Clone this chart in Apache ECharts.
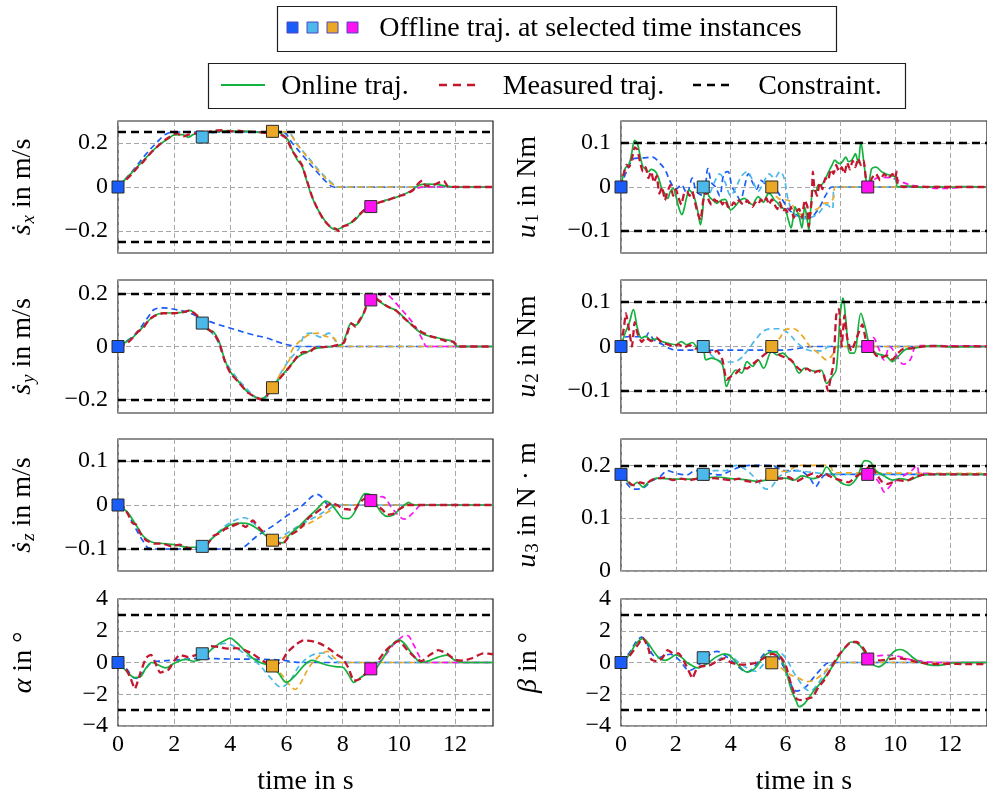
<!DOCTYPE html>
<html>
<head>
<meta charset="utf-8">
<script src="https://cdn.jsdelivr.net/npm/echarts@6/dist/echarts.min.js"></script>
<style>
  html, body { margin: 0; padding: 0; background: #fff; }
  #chart { width: 987px; height: 797px; }
</style>
</head>
<body>
<div id="chart"></div>
<script>
// ---------------------------------------------------------------
// Axis ticks and constraints
// ---------------------------------------------------------------
const timeTicks = [0, 2, 4, 6, 8, 10, 12];
const sxTicks = [-0.2, 0, 0.2];
const syTicks = [-0.2, 0, 0.2];
const szTicks = [-0.1, 0, 0.1];
const angleTicks = [-4, -2, 0, 2, 4];
const u12Ticks = [-0.1, 0, 0.1];
const u3Ticks = [0, 0.1, 0.2];

const sxLimits = [-0.25, 0.25];
const syLimits = [-0.2, 0.2];
const szLimits = [-0.1, 0.1];
const alphaLimits = [-3, 3];
const u1Limits = [-0.1, 0.1];
const u2Limits = [-0.1, 0.1];
const u3Limits = [0.2];
const betaLimits = [-3, 3];

// ---------------------------------------------------------------
// Translational velocity s_x  [t (s), value (m/s)]
// ---------------------------------------------------------------
const sxOnline = [[0,0],[0.3,0.04],[0.6,0.08],[0.9,0.12],[1.2,0.16],[1.5,0.195],[1.8,0.22],[2.0,0.237],[2.3,0.238],[2.5,0.226],[2.7,0.24],[3.0,0.246],[3.3,0.25],[3.6,0.253],[4.0,0.256],[4.3,0.252],[4.6,0.254],[5.0,0.248],[5.3,0.25],[5.6,0.25],[5.85,0.24],[6.05,0.215],[6.23,0.16],[6.4,0.12],[6.55,0.095],[6.7,0.035],[6.88,-0.036],[7.06,-0.089],[7.3,-0.141],[7.53,-0.179],[7.77,-0.194],[7.95,-0.185],[8.15,-0.17],[8.4,-0.155],[8.65,-0.12],[9.0,-0.089],[9.4,-0.066],[9.9,-0.047],[10.25,-0.03],[10.5,-0.012],[10.7,0.008],[11.0,0.013],[11.3,0.012],[11.7,0.004],[12.0,0],[13.35,0]];
const sxMeasured = [[0,0],[0.3,0.035],[0.5,0.06],[0.7,0.09],[0.9,0.115],[1.2,0.16],[1.5,0.195],[1.8,0.225],[2.1,0.245],[2.3,0.228],[2.5,0.238],[2.8,0.245],[3.1,0.248],[3.4,0.255],[3.7,0.258],[4.0,0.253],[4.3,0.256],[4.6,0.25],[4.9,0.252],[5.2,0.246],[5.5,0.252],[5.8,0.238],[6.0,0.22],[6.2,0.165],[6.4,0.13],[6.55,0.1],[6.7,0.04],[6.9,-0.04],[7.05,-0.085],[7.3,-0.145],[7.55,-0.18],[7.75,-0.19],[7.85,-0.2],[8.0,-0.18],[8.2,-0.172],[8.4,-0.15],[8.6,-0.125],[8.8,-0.1],[9.0,-0.09],[9.3,-0.07],[9.6,-0.06],[9.9,-0.045],[10.2,-0.035],[10.5,-0.015],[10.65,0.01],[10.83,0.03],[10.95,0.005],[11.2,0.008],[11.6,0.028],[11.75,0.002],[12.2,0],[13.35,0]];
const sxOff0 = [[0,0],[0.5,0.07],[1.0,0.15],[1.4,0.205],[1.7,0.24],[2.0,0.25],[5.85,0.25],[6.2,0.2],[6.6,0.14],[7.0,0.08],[7.4,0.025],[7.6,0.003],[7.7,0],[13.35,0]];
const sxOff3 = [[3,0.227],[3.3,0.245],[3.6,0.25],[6.0,0.25],[6.4,0.19],[6.8,0.13],[7.2,0.07],[7.6,0.02],[7.85,0],[13.35,0]];
const sxOff55 = [[5.5,0.253],[6.0,0.25],[6.4,0.19],[6.8,0.125],[7.2,0.065],[7.6,0.015],[7.85,0],[13.35,0]];
const sxOff9 = [[9,-0.089],[9.4,-0.066],[9.9,-0.046],[10.3,-0.025],[10.6,-0.008],[10.9,0],[13.35,0]];

// ---------------------------------------------------------------
// Translational velocity s_y
// ---------------------------------------------------------------
const syOnline = [[0,0],[0.5,0.032],[0.8,0.063],[1.0,0.088],[1.3,0.116],[1.6,0.126],[2.0,0.126],[2.4,0.13],[2.55,0.136],[2.8,0.116],[3.0,0.088],[3.2,0.063],[3.4,0.055],[3.6,0.019],[3.8,-0.05],[4.0,-0.095],[4.3,-0.133],[4.6,-0.17],[4.9,-0.192],[5.1,-0.196],[5.3,-0.183],[5.5,-0.152],[5.8,-0.114],[6.1,-0.076],[6.4,-0.04],[6.7,-0.023],[7.0,-0.008],[7.3,-0.003],[7.6,0],[7.9,0.005],[8.0,0.012],[8.1,0.038],[8.3,0.086],[8.45,0.08],[8.7,0.114],[8.9,0.17],[9.1,0.183],[9.3,0.17],[9.6,0.149],[9.9,0.136],[10.2,0.107],[10.5,0.076],[10.8,0.05],[11.1,0.038],[11.4,0.032],[11.7,0.025],[11.9,0.019],[12.1,0],[13.35,0]];
const syMeasured = [[0,0],[0.3,0.01],[0.5,0.03],[0.7,0.055],[0.9,0.07],[1.1,0.1],[1.3,0.115],[1.6,0.125],[2.0,0.125],[2.3,0.128],[2.55,0.135],[2.8,0.118],[3.0,0.09],[3.2,0.066],[3.4,0.05],[3.6,0.015],[3.8,-0.055],[4.0,-0.1],[4.3,-0.135],[4.6,-0.172],[4.9,-0.19],[5.1,-0.2],[5.3,-0.185],[5.5,-0.155],[5.8,-0.115],[6.1,-0.078],[6.4,-0.035],[6.6,-0.02],[6.8,-0.022],[7.0,-0.005],[7.3,-0.002],[7.6,0],[7.9,0.008],[8.05,0.015],[8.15,0.045],[8.3,0.088],[8.45,0.075],[8.6,0.1],[8.75,0.125],[8.9,0.165],[9.1,0.185],[9.3,0.172],[9.6,0.15],[9.9,0.135],[10.2,0.105],[10.5,0.078],[10.8,0.055],[11.1,0.04],[11.4,0.03],[11.7,0.02],[11.95,0.018],[12.1,0],[13.35,0]];
const syOff0 = [[0,0],[0.5,0.035],[0.8,0.07],[1.1,0.115],[1.3,0.14],[1.6,0.145],[2.0,0.14],[2.5,0.128],[3.0,0.105],[3.5,0.085],[4.1,0.066],[4.8,0.044],[5.3,0.032],[5.75,0.015],[6.2,0.003],[6.4,0],[13.35,0]];
const syOff3 = [[3,0.088],[3.2,0.065],[3.5,0.03],[3.8,-0.05],[4.1,-0.1],[4.5,-0.15],[4.9,-0.19],[5.1,-0.197],[5.3,-0.19],[5.5,-0.16],[5.85,-0.09],[6.1,-0.05],[6.45,-0.006],[6.65,0.045],[6.9,0.05],[7.2,0.035],[7.5,0.05],[7.75,0.02],[7.9,0],[13.35,0]];
const syOff55 = [[5.5,-0.155],[5.8,-0.1],[6.1,-0.05],[6.2,-0.013],[6.47,0.02],[6.8,0.044],[7.1,0.05],[7.4,0.038],[7.7,0.03],[7.9,0],[13.35,0]];
const syOff9 = [[9,0.175],[9.3,0.19],[9.5,0.2],[9.75,0.18],[10.0,0.15],[10.5,0.088],[10.85,0.025],[11.0,0],[13.35,0]];

// ---------------------------------------------------------------
// Translational velocity s_z
// ---------------------------------------------------------------
const szOnline = [[0,0],[0.3,-0.014],[0.6,-0.041],[0.9,-0.071],[1.2,-0.084],[1.5,-0.087],[2.0,-0.09],[2.5,-0.096],[3.0,-0.096],[3.3,-0.079],[3.6,-0.062],[4.0,-0.045],[4.4,-0.041],[4.7,-0.044],[5.0,-0.056],[5.3,-0.071],[5.6,-0.082],[5.85,-0.086],[6.1,-0.068],[6.5,-0.045],[6.8,-0.026],[7.1,-0.008],[7.4,0.009],[7.6,0.001],[7.8,-0.015],[8.0,-0.03],[8.2,-0.031],[8.4,-0.019],[8.6,0.008],[8.8,0.026],[9.0,0.023],[9.2,0],[9.4,-0.019],[9.6,-0.026],[9.8,-0.023],[10.0,-0.011],[10.2,0],[10.35,0.006],[10.5,0],[10.8,0],[13.35,0]];
const szMeasured = [[0,0],[0.2,-0.005],[0.35,-0.02],[0.5,-0.04],[0.65,-0.045],[0.8,-0.065],[1.0,-0.08],[1.3,-0.088],[1.6,-0.088],[1.9,-0.094],[2.2,-0.09],[2.5,-0.098],[2.8,-0.1],[3.0,-0.097],[3.2,-0.088],[3.4,-0.07],[3.6,-0.065],[3.8,-0.055],[4.0,-0.05],[4.3,-0.042],[4.55,-0.05],[4.8,-0.035],[5.0,-0.05],[5.3,-0.07],[5.6,-0.082],[5.85,-0.09],[6.1,-0.07],[6.4,-0.058],[6.6,-0.045],[6.8,-0.028],[7.0,-0.02],[7.2,-0.01],[7.4,-0.005],[7.6,0.005],[7.8,0],[8.0,-0.008],[8.2,-0.01],[8.4,-0.012],[8.6,0.005],[8.8,0.015],[9.0,0.01],[9.2,0],[9.4,-0.01],[9.6,-0.022],[9.8,-0.02],[10.0,-0.01],[10.3,0],[13.35,0]];
const szOff0 = [[0,0],[0.3,-0.015],[0.6,-0.05],[0.9,-0.083],[1.1,-0.098],[1.4,-0.1],[4.25,-0.1],[5.0,-0.068],[5.5,-0.048],[6.0,-0.025],[6.5,-0.004],[7.1,0.024],[7.3,0.015],[7.5,0],[13.35,0]];
const szOff3 = [[3,-0.094],[3.3,-0.078],[3.6,-0.06],[4.0,-0.04],[4.5,-0.029],[4.8,-0.04],[5.1,-0.058],[5.4,-0.072],[5.7,-0.076],[6.0,-0.065],[6.5,-0.045],[7.0,-0.028],[7.5,-0.01],[7.8,0],[13.35,0]];
const szOff55 = [[5.5,-0.08],[5.8,-0.078],[6.0,-0.07],[6.5,-0.052],[7.0,-0.035],[7.5,-0.015],[7.9,0],[13.35,0]];
const szOff9 = [[9,0.01],[9.4,0.019],[9.8,-0.011],[10.2,-0.032],[10.55,-0.015],[10.8,0],[13.35,0]];

// ---------------------------------------------------------------
// Roll angle alpha (deg)
// ---------------------------------------------------------------
const alphaOnline = [[0,0],[0.3,-0.54],[0.6,-0.95],[0.8,-0.9],[1.0,-0.34],[1.2,0],[1.4,-0.13],[1.7,-0.34],[2.0,-0.05],[2.4,0.2],[2.7,0.08],[3.0,0.27],[3.3,0.78],[3.6,1.19],[3.8,1.39],[4.0,1.53],[4.2,1.29],[4.5,0.78],[4.8,0.27],[5.1,-0.03],[5.4,-0.19],[5.7,-0.64],[6.0,-1.25],[6.3,-0.84],[6.6,-0.23],[6.9,0.13],[7.2,-0.02],[7.5,-0.19],[7.8,-0.27],[8.0,-0.3],[8.2,-0.74],[8.4,-1.25],[8.6,-1.0],[8.9,-0.64],[9.1,-0.55],[9.4,0.17],[9.7,0.99],[10.0,1.43],[10.2,1.19],[10.5,0.48],[10.8,0],[11.1,0.13],[11.4,0.34],[11.7,0.46],[12.0,0.13],[12.3,0],[13.35,0]];
const alphaMeasured = [[0,0],[0.25,-0.3],[0.45,-1.0],[0.6,-1.66],[0.8,-0.64],[1.0,0.3],[1.18,0.48],[1.3,0.1],[1.5,-0.64],[1.8,-0.45],[2.0,0.1],[2.2,0.48],[2.5,0.34],[2.8,0.48],[3.0,0.54],[3.3,1.03],[3.6,0.98],[3.9,0.88],[4.2,0.9],[4.5,0.78],[4.8,0.54],[5.1,0.17],[5.4,-0.1],[5.7,-0.05],[5.85,0.1],[6.0,0.58],[6.3,1.09],[6.6,1.39],[6.9,1.35],[7.2,1.19],[7.5,0.88],[7.8,0.48],[8.0,0.27],[8.2,-0.34],[8.4,-1.15],[8.6,-1.05],[8.9,-0.54],[9.2,0],[9.5,0.68],[9.8,1.19],[10.0,1.35],[10.3,0.78],[10.6,0.27],[10.8,0.08],[11.1,0.48],[11.4,0.78],[11.7,0.58],[12.0,0.17],[12.3,0.12],[12.6,0.27],[13.0,0.58],[13.35,0.52]];
const alphaOff0 = [[0,0],[0.3,-0.4],[0.55,-0.95],[0.7,-1.0],[0.9,-0.6],[1.2,0],[1.6,0.1],[2.0,0.15],[2.5,0.22],[3.0,0.25],[4.0,0.22],[5.0,0.2],[5.8,0.15],[6.3,0.02],[6.6,0],[13.35,0]];
const alphaOff3 = [[3,0.55],[3.4,0.95],[3.8,1.2],[4.1,1.05],[4.5,0.55],[5.0,-0.1],[5.4,-0.9],[5.8,-1.55],[6.1,-1.2],[6.5,-0.1],[6.9,0.45],[7.3,0.6],[7.6,0.25],[7.9,0],[13.35,0]];
const alphaOff55 = [[5.5,-0.22],[5.8,-0.7],[6.1,-1.4],[6.3,-1.7],[6.5,-1.3],[6.8,-0.3],[7.1,0.3],[7.45,0.7],[7.7,0.3],[7.95,0],[13.35,0]];
const alphaOff9 = [[9,-0.4],[9.4,0.2],[9.8,1.1],[10.1,1.6],[10.3,1.7],[10.5,1.2],[10.8,0.2],[11.0,0],[13.35,0]];

// ---------------------------------------------------------------
// Torque u_1 (Nm)
// ---------------------------------------------------------------
const u1Online = [[0,0],[0.15,0.042],[0.3,0.053],[0.4,0.08],[0.5,0.106],[0.6,0.098],[0.7,0.07],[0.8,0.046],[0.9,0.04],[1.0,0.035],[1.1,0.04],[1.2,0.038],[1.3,0.031],[1.4,0.015],[1.5,-0.007],[1.6,-0.015],[1.7,-0.026],[1.8,-0.01],[1.9,-0.003],[2.0,-0.02],[2.1,-0.045],[2.22,-0.063],[2.3,-0.05],[2.4,-0.022],[2.5,-0.007],[2.6,-0.015],[2.7,-0.029],[2.8,-0.055],[2.9,-0.086],[2.97,-0.06],[3.05,-0.011],[3.15,-0.005],[3.2,-0.02],[3.35,-0.03],[3.5,-0.037],[3.65,-0.03],[3.8,-0.028],[3.9,-0.04],[4.0,-0.052],[4.1,-0.048],[4.2,-0.041],[4.35,-0.03],[4.5,-0.026],[4.65,-0.035],[4.8,-0.04],[4.9,-0.03],[5.0,-0.022],[5.1,-0.028],[5.2,-0.035],[5.3,-0.022],[5.4,-0.014],[5.5,-0.02],[5.6,-0.03],[5.7,-0.035],[5.8,-0.044],[5.9,-0.048],[6.0,-0.052],[6.1,-0.074],[6.2,-0.093],[6.28,-0.07],[6.35,-0.045],[6.45,-0.06],[6.5,-0.068],[6.6,-0.093],[6.7,-0.045],[6.78,-0.07],[6.85,-0.097],[6.92,-0.05],[7.0,-0.007],[7.1,-0.01],[7.2,0.005],[7.3,0.005],[7.4,0.012],[7.5,0.025],[7.6,0.038],[7.7,0.05],[7.8,0.061],[7.9,0.055],[8.0,0.053],[8.1,0.06],[8.2,0.068],[8.3,0.058],[8.4,0.06],[8.5,0.07],[8.55,0.076],[8.65,0.055],[8.75,0.102],[8.85,0.06],[8.95,0.01],[9.0,-0.007],[9.1,0.03],[9.15,0.042],[9.3,0.045],[9.5,0.035],[9.65,0.03],[9.8,0.027],[9.9,0.025],[10.0,0.023],[10.1,0],[10.3,0.002],[10.5,0.002],[10.8,0],[11.0,-0.001],[11.5,0.001],[12.0,-0.001],[12.5,0.001],[13.35,0]];
const u1Measured = [[0,0],[0.1,0.03],[0.2,0.05],[0.3,0.045],[0.4,0.065],[0.5,0.09],[0.6,0.085],[0.7,0.055],[0.8,0.035],[0.9,0.045],[1.0,0.02],[1.1,0.035],[1.2,0.01],[1.3,0.025],[1.4,-0.015],[1.5,0],[1.6,-0.03],[1.7,-0.01],[1.8,0.005],[1.9,-0.02],[2.0,-0.005],[2.1,-0.025],[2.2,-0.04],[2.3,-0.015],[2.4,-0.01],[2.5,-0.02],[2.6,-0.01],[2.7,-0.035],[2.8,-0.06],[2.9,-0.075],[3.0,-0.03],[3.1,-0.01],[3.2,-0.03],[3.3,-0.04],[3.4,-0.028],[3.5,-0.033],[3.6,-0.028],[3.7,-0.04],[3.8,-0.03],[3.9,-0.045],[4.0,-0.048],[4.1,-0.035],[4.2,-0.04],[4.3,-0.03],[4.4,-0.037],[4.5,-0.04],[4.6,-0.03],[4.7,-0.038],[4.8,-0.045],[4.9,-0.035],[5.0,-0.04],[5.1,-0.028],[5.2,-0.035],[5.3,-0.025],[5.4,-0.04],[5.5,-0.028],[5.6,-0.04],[5.7,-0.05],[5.8,-0.035],[5.9,-0.055],[6.0,-0.05],[6.1,-0.06],[6.2,-0.045],[6.3,-0.07],[6.4,-0.055],[6.5,-0.05],[6.6,-0.07],[6.7,-0.03],[6.8,-0.045],[6.85,-0.09],[6.9,-0.06],[6.95,-0.035],[7.0,0.035],[7.05,0],[7.15,-0.02],[7.25,0.01],[7.35,-0.005],[7.45,0.02],[7.55,0.015],[7.65,0.04],[7.75,0.03],[7.85,0.05],[7.95,0.035],[8.05,0.045],[8.15,0.03],[8.25,0.055],[8.35,0.04],[8.45,0.06],[8.55,0.045],[8.65,0.065],[8.75,0.05],[8.85,0.06],[8.95,0.01],[9.05,0],[9.15,0.02],[9.3,0.03],[9.45,0.015],[9.6,0.03],[9.75,0.02],[9.9,0.03],[10.0,0.02],[10.05,0.035],[10.1,0.005],[10.3,0],[10.8,0.001],[11.5,0],[13.35,0]];
const u1Off0 = [[0,0],[0.2,0.035],[0.5,0.065],[0.8,0.066],[1.15,0.068],[1.4,0.055],[1.6,0.04],[1.8,0.012],[2.0,-0.005],[2.2,0.005],[2.4,-0.015],[2.6,0.02],[2.75,-0.01],[3.0,-0.02],[3.17,0.042],[3.3,0.01],[3.45,0],[3.6,-0.02],[3.75,0.03],[3.9,0.035],[4.05,0],[4.2,-0.015],[4.35,-0.03],[4.5,0],[4.65,0.03],[4.8,0.01],[4.95,-0.005],[5.1,0.015],[5.3,0.005],[5.5,0],[5.7,-0.01],[5.9,-0.03],[6.1,-0.05],[6.3,-0.06],[6.6,-0.068],[6.9,-0.068],[7.2,-0.05],[7.5,-0.015],[7.7,0],[13.35,0]];
const u1Off3 = [[3,0],[3.2,-0.015],[3.4,0.01],[3.6,0.03],[3.8,0.01],[4.0,-0.02],[4.2,0],[4.4,0.025],[4.6,0.035],[4.8,0.015],[5.0,-0.01],[5.2,0.01],[5.4,0.03],[5.6,0.02],[5.8,0.035],[5.95,0.02],[6.1,-0.03],[6.3,-0.06],[6.6,-0.072],[6.9,-0.07],[7.2,-0.06],[7.5,-0.04],[7.7,-0.05],[7.8,0],[13.35,0]];
const u1Off55 = [[5.5,0],[5.65,-0.02],[5.8,-0.028],[6.1,-0.03],[6.3,-0.045],[6.5,-0.06],[6.75,-0.068],[7.0,-0.056],[7.2,-0.048],[7.4,-0.037],[7.6,-0.035],[7.75,-0.025],[7.8,0],[13.35,0]];
const u1Off9 = [[9,0],[9.2,0.01],[9.3,0.02],[9.6,0.022],[9.9,0.02],[10.1,0.015],[10.3,0.01],[10.6,0.004],[11.0,0],[11.5,-0.003],[12.0,-0.003],[12.5,0],[13.35,0]];

// ---------------------------------------------------------------
// Torque u_2 (Nm)
// ---------------------------------------------------------------
const u2Online = [[0,0],[0.15,0.03],[0.3,0.053],[0.45,0.083],[0.6,0.041],[0.75,0.019],[0.9,0.023],[1.1,0.015],[1.3,0.017],[1.5,0.011],[1.8,0.006],[2.0,0.004],[2.2,0.011],[2.4,0.004],[2.6,0.009],[2.8,-0.004],[3.0,-0.008],[3.1,-0.03],[3.3,-0.026],[3.5,-0.03],[3.7,-0.041],[3.85,-0.09],[4.0,-0.068],[4.2,-0.053],[4.4,-0.06],[4.6,-0.034],[4.8,-0.045],[5.0,-0.03],[5.2,-0.049],[5.5,-0.011],[5.7,-0.019],[5.9,-0.015],[6.1,-0.026],[6.3,-0.038],[6.5,-0.06],[6.7,-0.049],[6.9,-0.053],[7.1,-0.056],[7.3,-0.053],[7.5,-0.083],[7.7,-0.068],[7.85,-0.053],[8.0,0.075],[8.1,0.109],[8.2,0.06],[8.35,-0.015],[8.5,-0.015],[8.75,0.075],[8.9,0.045],[9.1,-0.004],[9.3,-0.015],[9.5,-0.019],[9.7,-0.023],[9.9,-0.034],[10.1,-0.023],[10.4,-0.006],[10.7,-0.004],[11.0,0],[11.5,0.002],[12.0,-0.001],[13.35,0]];
const u2Measured = [[0,0],[0.1,0.04],[0.18,0.075],[0.3,0.035],[0.4,0],[0.5,0.055],[0.6,0.03],[0.75,0.01],[0.9,0.02],[1.1,0.012],[1.3,0.02],[1.5,0.008],[1.7,0.005],[1.9,0],[2.1,0.005],[2.3,-0.002],[2.5,0.003],[2.7,-0.005],[2.9,-0.003],[3.1,-0.005],[3.3,-0.015],[3.5,-0.01],[3.7,-0.03],[3.85,-0.075],[4.0,-0.068],[4.2,-0.06],[4.4,-0.048],[4.6,-0.05],[4.8,-0.04],[5.0,-0.03],[5.2,-0.02],[5.4,-0.01],[5.6,-0.005],[5.8,-0.02],[6.0,-0.025],[6.2,-0.03],[6.4,-0.045],[6.6,-0.055],[6.8,-0.05],[7.0,-0.06],[7.2,-0.055],[7.4,-0.065],[7.55,-0.1],[7.65,-0.07],[7.75,-0.04],[7.85,0.07],[7.95,0.085],[8.05,0],[8.15,0.07],[8.25,0.02],[8.4,-0.01],[8.6,0.02],[8.8,0.05],[8.95,0.01],[9.1,0],[9.3,-0.02],[9.5,-0.025],[9.7,-0.02],[9.9,-0.03],[10.1,-0.015],[10.3,-0.005],[10.6,-0.004],[11.0,0],[11.5,0.001],[12.0,0],[12.5,0.001],[13.35,0]];
const u2Off0 = [[0,0],[0.2,0.022],[0.9,0.022],[1.0,0.03],[1.2,0.015],[1.5,0.005],[1.8,-0.005],[2.0,-0.008],[6.0,-0.008],[6.5,-0.004],[7.0,0],[13.35,0]];
const u2Off3 = [[3,0],[3.3,-0.02],[3.6,-0.032],[4.0,-0.035],[4.3,-0.03],[4.6,-0.01],[4.9,0.015],[5.2,0.035],[5.5,0.04],[5.8,0.04],[6.1,0.03],[6.4,0.01],[6.7,-0.005],[7.0,-0.01],[7.3,-0.01],[7.6,0],[13.35,0]];
const u2Off55 = [[5.5,0],[5.8,0.02],[6.0,0.038],[6.3,0.04],[6.6,0.025],[6.9,0],[7.2,-0.015],[7.5,-0.03],[7.7,-0.02],[7.9,0],[13.35,0]];
const u2Off9 = [[9,0],[9.2,0.02],[9.4,-0.005],[9.6,-0.03],[9.8,0],[10.0,-0.015],[10.3,-0.04],[10.55,-0.03],[10.75,0],[11.0,0.002],[13.35,0]];

// ---------------------------------------------------------------
// Thrust-related input u_3 (N·m)
// ---------------------------------------------------------------
const u3Online = [[0,0.183],[0.2,0.172],[0.4,0.162],[0.6,0.168],[0.8,0.159],[1.0,0.168],[1.3,0.176],[1.6,0.175],[2.0,0.174],[2.5,0.174],[3.0,0.176],[3.5,0.178],[4.0,0.175],[4.5,0.173],[5.0,0.17],[5.5,0.174],[6.0,0.176],[6.3,0.172],[6.6,0.18],[7.0,0.175],[7.3,0.181],[7.5,0.197],[7.7,0.184],[8.0,0.168],[8.3,0.162],[8.6,0.176],[8.9,0.209],[9.1,0.206],[9.3,0.19],[9.6,0.18],[9.9,0.172],[10.2,0.175],[10.5,0.172],[10.8,0.178],[11.0,0.182],[11.3,0.183],[13.35,0.183]];
const u3Measured = [[0,0.183],[0.2,0.175],[0.35,0.165],[0.5,0.162],[0.7,0.168],[0.9,0.165],[1.1,0.172],[1.3,0.175],[1.6,0.177],[1.9,0.172],[2.2,0.175],[2.5,0.172],[2.8,0.175],[3.1,0.173],[3.4,0.176],[3.7,0.174],[4.0,0.172],[4.3,0.175],[4.6,0.17],[4.9,0.168],[5.2,0.173],[5.5,0.178],[5.8,0.175],[6.1,0.178],[6.4,0.17],[6.7,0.178],[7.0,0.185],[7.2,0.178],[7.4,0.185],[7.6,0.18],[7.8,0.175],[8.0,0.172],[8.3,0.168],[8.6,0.18],[8.9,0.19],[9.1,0.2],[9.3,0.185],[9.5,0.17],[9.7,0.165],[9.9,0.168],[10.1,0.172],[10.4,0.17],[10.7,0.178],[11.0,0.182],[11.3,0.183],[13.35,0.183]];
const u3Off0 = [[0,0.183],[0.3,0.16],[0.5,0.155],[0.8,0.157],[1.1,0.17],[1.4,0.178],[1.7,0.19],[2.0,0.185],[2.4,0.182],[2.7,0.19],[3.2,0.185],[3.6,0.182],[4.0,0.19],[4.4,0.198],[4.8,0.2],[5.2,0.2],[5.6,0.198],[6.0,0.19],[6.5,0.19],[6.9,0.175],[7.1,0.16],[7.3,0.175],[7.5,0.183],[13.35,0.183]];
const u3Off3 = [[3,0.183],[3.4,0.19],[3.8,0.19],[4.2,0.2],[4.6,0.19],[5.0,0.17],[5.3,0.155],[5.5,0.16],[5.8,0.18],[6.3,0.19],[6.8,0.188],[7.3,0.185],[7.8,0.183],[13.35,0.183]];
const u3Off55 = [[5.5,0.183],[5.8,0.188],[6.1,0.19],[6.5,0.2],[6.9,0.2],[7.3,0.2],[7.6,0.2],[7.8,0.186],[13.35,0.185]];
const u3Off9 = [[9,0.183],[9.2,0.18],[9.45,0.165],[9.6,0.15],[9.8,0.16],[10.0,0.17],[10.3,0.18],[10.6,0.19],[10.8,0.2],[10.9,0.185],[13.35,0.183]];

// ---------------------------------------------------------------
// Pitch angle beta (deg)
// ---------------------------------------------------------------
const betaOnline = [[0,0],[0.3,0.48],[0.55,1.19],[0.8,1.5],[1.0,1.19],[1.2,0.68],[1.4,0.27],[1.6,0.13],[1.8,0.27],[2.0,0.48],[2.2,0.34],[2.4,0],[2.6,-0.2],[2.8,-0.34],[3.0,-0.2],[3.2,0],[3.5,0.38],[3.8,0.54],[4.0,0.38],[4.3,-0.2],[4.6,-0.6],[4.9,-0.34],[5.2,0.38],[5.4,0.62],[5.6,0.68],[5.8,0.38],[6.0,-0.44],[6.2,-1.66],[6.4,-2.47],[6.5,-2.78],[6.7,-2.57],[7.0,-1.86],[7.3,-1.25],[7.6,-0.54],[7.9,0.27],[8.2,0.99],[8.4,1.29],[8.6,1.23],[8.8,0.88],[9.0,0.27],[9.2,-0.13],[9.4,-0.27],[9.6,-0.07],[9.8,0.41],[10.0,0.74],[10.2,0.82],[10.4,0.68],[10.6,0.38],[10.9,0.01],[11.2,-0.13],[11.5,-0.19],[11.8,-0.13],[12.1,-0.03],[12.5,0],[13.35,0]];
const betaMeasured = [[0,0],[0.3,0.4],[0.6,1.08],[0.8,1.55],[1.0,0.88],[1.1,0.2],[1.3,0.07],[1.5,0.27],[1.7,0.78],[1.9,0.58],[2.1,0.58],[2.3,0.07],[2.5,-0.64],[2.6,-1.0],[2.75,-0.44],[2.9,-0.24],[3.2,-0.2],[3.5,0.07],[3.8,0.27],[4.0,0.01],[4.3,-0.13],[4.6,-0.13],[4.9,-0.03],[5.2,0.27],[5.5,0.54],[5.8,0.38],[6.0,-0.13],[6.2,-1.35],[6.4,-2.27],[6.6,-2.37],[6.8,-2.27],[7.0,-2.17],[7.2,-1.55],[7.4,-1.15],[7.6,-0.54],[7.9,0.38],[8.2,0.99],[8.4,1.29],[8.6,1.29],[8.8,0.99],[9.0,0.48],[9.2,0.17],[9.5,0.13],[9.8,0.21],[10.1,0.27],[10.4,0.21],[10.7,0.07],[11.0,-0.03],[11.5,-0.1],[12.0,-0.08],[12.5,-0.1],[13.35,-0.1]];
const betaOff0 = [[0,0],[0.3,0.6],[0.55,1.3],[0.75,1.6],[0.95,1.2],[1.15,0.5],[1.35,0.3],[1.6,0.45],[1.8,0.52],[2.1,0.2],[2.5,-0.5],[2.8,-0.2],[3.1,0.3],[3.5,0.7],[3.9,0.3],[4.3,-0.3],[4.6,-0.6],[4.9,-0.2],[5.2,0.5],[5.4,0.75],[5.7,0.4],[6.0,-0.5],[6.4,-1.8],[6.7,-1.6],[7.0,-1.0],[7.3,-0.4],[7.6,0],[13.35,0]];
const betaOff3 = [[3,0.3],[3.2,-0.2],[3.5,0.1],[3.9,0.5],[4.3,0],[4.6,-0.35],[4.9,-0.55],[5.2,-0.1],[5.5,0.5],[5.7,0.7],[6.0,0.3],[6.4,-0.9],[6.9,-1.8],[7.2,-1.3],[7.5,-0.5],[7.8,0],[13.35,0]];
const betaOff55 = [[5.5,-0.02],[5.8,-0.3],[6.1,-0.7],[6.5,-1.0],[6.8,-1.2],[7.0,-1.15],[7.3,-0.8],[7.6,-0.3],[7.9,0],[13.35,0]];
const betaOff9 = [[9,0.22],[9.3,0.4],[9.6,0.45],[9.9,0.45],[10.2,0.35],[10.5,0.2],[10.9,0.1],[11.3,0.02],[11.6,0],[13.35,0]];

// ---------------------------------------------------------------
// Styling
// ---------------------------------------------------------------
const SERIF = '"Liberation Serif", "DejaVu Serif", serif';
const COLOR_ONLINE = '#14b23e';
const COLOR_MEASURED = '#c3172f';
const OFFLINE_COLORS = ['#1a5cf7', '#4cb9ea', '#eaa826', '#ff12f2'];
const T_MAX = 13.35;

const panels = [
  { online: sxOnline, measured: sxMeasured, offline: [sxOff0, sxOff3, sxOff55, sxOff9], limits: sxLimits, ticks: sxTicks, range: [-0.3, 0.3], name: '{m|ṡ}{s|x}{r| in m/s}' },
  { online: u1Online, measured: u1Measured, offline: [u1Off0, u1Off3, u1Off55, u1Off9], limits: u1Limits, ticks: u12Ticks, range: [-0.15, 0.15], name: '{m|u}{d|1}{r| in Nm}' },
  { online: syOnline, measured: syMeasured, offline: [syOff0, syOff3, syOff55, syOff9], limits: syLimits, ticks: syTicks, range: [-0.25, 0.25], name: '{m|ṡ}{s|y}{r| in m/s}' },
  { online: u2Online, measured: u2Measured, offline: [u2Off0, u2Off3, u2Off55, u2Off9], limits: u2Limits, ticks: u12Ticks, range: [-0.15, 0.15], name: '{m|u}{d|2}{r| in Nm}' },
  { online: szOnline, measured: szMeasured, offline: [szOff0, szOff3, szOff55, szOff9], limits: szLimits, ticks: szTicks, range: [-0.15, 0.15], name: '{m|ṡ}{s|z}{r| in m/s}' },
  { online: u3Online, measured: u3Measured, offline: [u3Off0, u3Off3, u3Off55, u3Off9], limits: u3Limits, ticks: u3Ticks, range: [0, 0.25], name: '{m|u}{d|3}{r| in N · m}' },
  { online: alphaOnline, measured: alphaMeasured, offline: [alphaOff0, alphaOff3, alphaOff55, alphaOff9], limits: alphaLimits, ticks: angleTicks, range: [-4, 4], name: '{m|α}{r| in °}' },
  { online: betaOnline, measured: betaMeasured, offline: [betaOff0, betaOff3, betaOff55, betaOff9], limits: betaLimits, ticks: angleTicks, range: [-4, 4], name: '{m|β}{r| in °}' }
];

// Grid placement (pixels)
const ROW_TOP = [121, 280, 439, 599];
const ROW_HEIGHT = [132, 133, 132, 131];
const COL_LEFT = [118, 621];
const PLOT_WIDTH = 375;

function tickText(v) {
  const r = Math.round(v * 1000) / 1000;
  return (r < 0 ? '\u2212' : '') + String(Math.abs(r));
}

const nameRich = {
  m: { fontFamily: SERIF, fontSize: 28, fontStyle: 'italic', color: '#000' },
  s: { fontFamily: SERIF, fontSize: 19, fontStyle: 'italic', color: '#000', padding: [12, 0, 0, 1] },
  d: { fontFamily: SERIF, fontSize: 19, color: '#000', padding: [12, 0, 0, 1] },
  r: { fontFamily: SERIF, fontSize: 28, color: '#000' }
};

const grids = [], xAxes = [], yAxes = [], series = [];

panels.forEach((p, i) => {
  const row = Math.floor(i / 2), col = i % 2;
  const bottom = row === 3;
  grids.push({
    left: COL_LEFT[col], top: ROW_TOP[row], width: PLOT_WIDTH, height: ROW_HEIGHT[row],
    show: true, borderColor: '#1e1e1e', borderWidth: 1.2, backgroundColor: 'transparent'
  });
  xAxes.push({
    gridIndex: i, type: 'value', min: 0, max: T_MAX,
    axisLine: { show: false },
    axisTick: { show: false, customValues: timeTicks },
    axisLabel: { show: bottom, customValues: timeTicks, formatter: tickText, fontFamily: SERIF, fontSize: 24, color: '#000', margin: 7 },
    splitLine: { show: true, lineStyle: { color: '#a6a6a6', width: 1, type: [5, 3] } },
    name: bottom ? 'time in s' : '', nameLocation: 'middle', nameGap: 42,
    nameTextStyle: { fontFamily: SERIF, fontSize: 28, color: '#000' }
  });
  yAxes.push({
    gridIndex: i, type: 'value', min: p.range[0], max: p.range[1],
    axisLine: { show: false },
    axisTick: { show: false, customValues: p.ticks },
    axisLabel: { customValues: p.ticks, formatter: tickText, fontFamily: SERIF, fontSize: 24, color: '#000', margin: 10 },
    splitLine: { show: true, lineStyle: { color: '#a6a6a6', width: 1, type: [5, 3] } },
    name: p.name, nameLocation: 'middle', nameRotate: 90, nameGap: col === 0 ? 80 : 78,
    nameTextStyle: { rich: nameRich }
  });

  // Offline trajectories computed at the four selected instants
  p.offline.forEach((traj, k) => {
    series.push({
      type: 'line', xAxisIndex: i, yAxisIndex: i, data: traj,
      showSymbol: false, smooth: 0.35, z: 2, animation: false, silent: true,
      lineStyle: { color: OFFLINE_COLORS[k], width: 1.7, type: [6, 4] }
    });
  });
  // Online trajectory
  series.push({
    type: 'line', xAxisIndex: i, yAxisIndex: i, data: p.online,
    showSymbol: false, smooth: 0.35, z: 3, animation: false, silent: true,
    lineStyle: { color: COLOR_ONLINE, width: 1.7 }
  });
  // Measured trajectory
  series.push({
    type: 'line', xAxisIndex: i, yAxisIndex: i, data: p.measured,
    showSymbol: false, smooth: 0.15, z: 4, animation: false, silent: true,
    lineStyle: { color: COLOR_MEASURED, width: 2.3, type: [7, 4] }
  });
  // Constraint bounds
  series.push({
    type: 'line', xAxisIndex: i, yAxisIndex: i, data: [], z: 5, animation: false,
    markLine: {
      silent: true, symbol: ['none', 'none'], animation: false,
      label: { show: false },
      lineStyle: { color: '#000', width: 2.4, type: [8, 5] },
      data: p.limits.map(v => ({ yAxis: v }))
    }
  });
  // Start points of the offline trajectories
  series.push({
    type: 'scatter', xAxisIndex: i, yAxisIndex: i, z: 6, clip: false, animation: false, silent: true,
    symbol: 'rect', symbolSize: 12,
    data: p.offline.map((traj, k) => ({
      value: traj[0],
      itemStyle: { color: OFFLINE_COLORS[k], opacity: 1, borderColor: '#2b2b2b', borderWidth: 1 }
    }))
  });
});

// ---------------------------------------------------------------
// Legends
// ---------------------------------------------------------------
const legendFont = '28px ' + SERIF;
const graphics = [
  { type: 'rect', shape: { x: 277.5, y: 6.5, width: 559, height: 45 }, style: { fill: '#fff', stroke: '#1e1e1e', lineWidth: 1.2 }, z: 10 },
  ...OFFLINE_COLORS.map((c, k) => ({
    type: 'rect', shape: { x: 287 + 20 * k, y: 22, width: 11, height: 11 },
    style: { fill: c, stroke: '#4a46c4', lineWidth: 1 }, z: 11
  })),
  { type: 'text', x: 590.5, y: 29, style: { text: 'Offline traj. at selected time instances', font: legendFont, fill: '#000', align: 'center', verticalAlign: 'middle' }, z: 11 },

  { type: 'rect', shape: { x: 208.5, y: 63.5, width: 697, height: 45 }, style: { fill: '#fff', stroke: '#1e1e1e', lineWidth: 1.2 }, z: 10 },
  { type: 'line', shape: { x1: 221, y1: 85, x2: 265, y2: 85 }, style: { stroke: COLOR_ONLINE, lineWidth: 2 }, z: 11 },
  { type: 'text', x: 345, y: 87, style: { text: 'Online traj.', font: legendFont, fill: '#000', align: 'center', verticalAlign: 'middle' }, z: 11 },
  { type: 'line', shape: { x1: 439, y1: 85, x2: 481, y2: 85 }, style: { stroke: COLOR_MEASURED, lineWidth: 2.4, lineDash: [8, 6] }, z: 11 },
  { type: 'text', x: 583.5, y: 87, style: { text: 'Measured traj.', font: legendFont, fill: '#000', align: 'center', verticalAlign: 'middle' }, z: 11 },
  { type: 'line', shape: { x1: 693, y1: 85, x2: 729, y2: 85 }, style: { stroke: '#000', lineWidth: 2.4, lineDash: [8, 6] }, z: 11 },
  { type: 'text', x: 820, y: 87, style: { text: 'Constraint.', font: legendFont, fill: '#000', align: 'center', verticalAlign: 'middle' }, z: 11 }
];

const chart = echarts.init(document.getElementById('chart'), null, { renderer: 'canvas' });
chart.setOption({
  animation: false,
  backgroundColor: '#fff',
  grid: grids,
  xAxis: xAxes,
  yAxis: yAxes,
  series: series,
  graphic: graphics
});
</script>
</body>
</html>
